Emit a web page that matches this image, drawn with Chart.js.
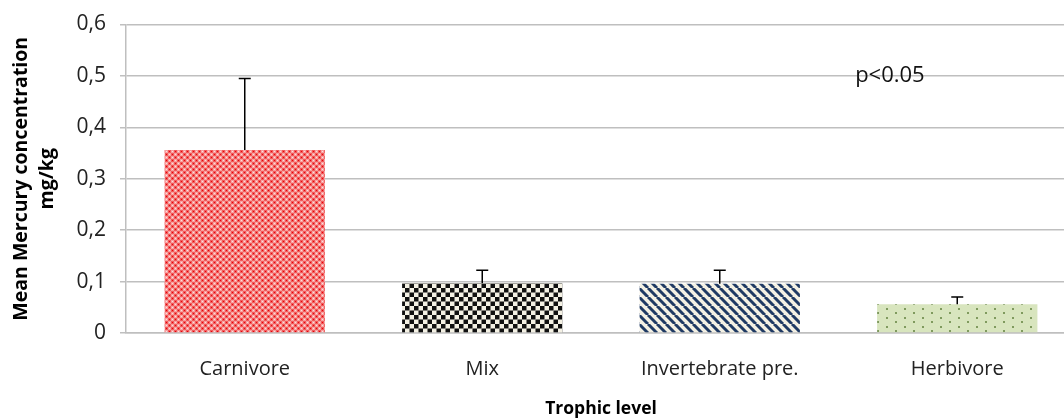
<!DOCTYPE html>
<html>
<head>
<meta charset="utf-8">
<script src="https://cdn.jsdelivr.net/npm/chart.js@4"></script>
<style>
  html, body { margin: 0; padding: 0; background: #fff; overflow: hidden; }
  #wrap { width: 1076px; height: 418px; }
</style>
</head>
<body>
<div id="wrap"><canvas id="grafica" width="1076" height="418"></canvas></div>
<script>
// Datos
const categorias = ['Carnivore', 'Mix', 'Invertebrate pre.', 'Herbivore'];
const medias = [0.356, 0.097, 0.096, 0.056];
const errores = [0.139, 0.025, 0.026, 0.014];
const ticksY = [0, 0.1, 0.2, 0.3, 0.4, 0.5, 0.6];
const nota = 'p<0.05';

// Crea un patrón de relleno a partir de una función de dibujo
function patron(w, h, dibujar) {
    const c = document.createElement('canvas');
    c.width = w; c.height = h;
    const g = c.getContext('2d');
    dibujar(g);
    return document.getElementById('grafica').getContext('2d').createPattern(c, 'repeat');
}

const rellenos = [
    patron(6, 6, g => {
        g.fillStyle = '#f7a0a0'; g.fillRect(0, 0, 6, 6);
        g.fillStyle = '#f05a5a'; g.fillRect(0, 0, 3, 3); g.fillRect(3, 3, 3, 3);
        g.fillStyle = '#e8000a'; g.fillRect(1, 1, 1, 1); g.fillRect(4, 4, 1, 1);
        g.fillStyle = '#fde0e0'; g.fillRect(4, 1, 1, 1); g.fillRect(1, 4, 1, 1);
    }),
    patron(9, 9, g => {
        g.fillStyle = '#f4f1e4'; g.fillRect(0, 0, 9, 9);
        g.fillStyle = '#111'; g.fillRect(0, 0, 4.5, 4.5); g.fillRect(4.5, 4.5, 4.5, 4.5);
    }),
    patron(9, 9, g => {
        g.fillStyle = '#f4f1e4'; g.fillRect(0, 0, 9, 9);
        g.strokeStyle = '#1f3a64'; g.lineWidth = 3;
        for (let k = -9; k <= 18; k += 9) {
            g.beginPath(); g.moveTo(k, 0); g.lineTo(k + 9, 9); g.stroke();
        }
    }),
    patron(18, 9, g => {
        g.fillStyle = '#d8e5be'; g.fillRect(0, 0, 18, 9);
        g.fillStyle = '#7f9a5e'; g.fillRect(4, 2, 2, 2); g.fillRect(13, 6, 2, 2);
    })
];

// Barras de error y nota de significancia
const extras = {
    id: 'extras',
    afterDatasetsDraw(chart) {
        const ctx = chart.ctx;
        const x = chart.scales.x, y = chart.scales.y;
        ctx.save();
        ctx.strokeStyle = '#000';
        ctx.lineWidth = 1.5;
        medias.forEach((m, i) => {
            const cx = x.getPixelForValue(i);
            const y0 = y.getPixelForValue(m);
            const y1 = y.getPixelForValue(m + errores[i]);
            ctx.beginPath();
            ctx.moveTo(cx, y0); ctx.lineTo(cx, y1);
            ctx.moveTo(cx - 6, y1); ctx.lineTo(cx + 6, y1);
            ctx.stroke();
        });
        ctx.fillStyle = '#111';
        ctx.font = '22px "Open Sans", sans-serif';
        ctx.textBaseline = 'middle';
        ctx.fillText(nota, x.getPixelForValue(2.57), y.getPixelForValue(0.5));
        ctx.restore();
    }
};

new Chart(document.getElementById('grafica'), {
    type: 'bar',
    data: {
        labels: categorias,
        datasets: [{
            data: medias,
            backgroundColor: rellenos,
            borderWidth: 0,
            categoryPercentage: 1,
            barPercentage: 0.675
        }]
    },
    options: {
        responsive: false,
        animation: false,
        layout: { padding: { top: 22, left: 0, right: 0, bottom: 0 } },
        plugins: { legend: { display: false }, tooltip: { enabled: false } },
        scales: {
            x: {
                grid: { display: false },
                border: { color: '#bfbfbf', width: 1.5 },
                ticks: { color: '#222', font: { family: 'Open Sans', size: 20 }, padding: 16 },
                title: { display: true, text: 'Trophic level', color: '#000',
                         font: { family: 'Open Sans', size: 17.5, weight: 'bold', lineHeight: 1 },
                         padding: { top: 12, bottom: 0 } },
                afterFit: s => { s.height = 85; }
            },
            y: {
                min: 0, max: 0.6,
                afterBuildTicks: s => { s.ticks = ticksY.map(v => ({ value: v })); },
                grid: { color: '#bfbfbf', lineWidth: 1.5, tickLength: 6 },
                border: { color: '#bfbfbf', width: 1.5 },
                ticks: {
                    color: '#222', padding: 14,
                    font: { family: 'Open Sans', size: 21, lineHeight: 1 },
                    callback: v => String(Math.round(v * 10) / 10).replace('.', ',')
                },
                title: { display: true, text: ['Mean Mercury concentration', 'mg/kg'], color: '#000',
                         font: { family: 'Open Sans', size: 19.5, weight: 'bold', lineHeight: 1.35 },
                         padding: { top: 8, bottom: 0 } },
                afterFit: s => { s.width = 126; }
            }
        }
    },
    plugins: [extras]
});
</script>
</body>
</html>
